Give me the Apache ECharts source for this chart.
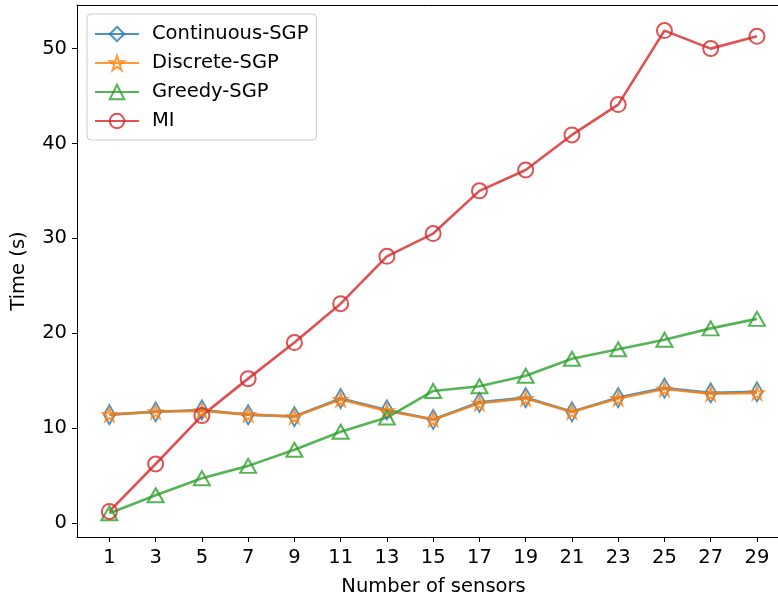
<!DOCTYPE html>
<html>
<head>
<meta charset="utf-8">
<script src="https://cdn.jsdelivr.net/npm/echarts@6/dist/echarts.min.js"></script>
<style>html,body{margin:0;padding:0;background:#fff;overflow:hidden;}#c{width:778px;height:603px;}</style>
</head>
<body>
<div id="c"></div>
<script>
const sensors = [1,3,5,7,9,11,13,15,17,19,21,23,25,27,29];
const continuousSGP = [11.4,11.7,11.9,11.4,11.2,13.1,11.9,10.9,12.7,13.2,11.7,13.2,14.2,13.7,13.8];
const discreteSGP   = [11.4,11.7,11.8,11.4,11.2,13.0,11.8,10.9,12.6,13.1,11.7,13.1,14.1,13.6,13.7];
const greedySGP     = [1.0,2.9,4.7,6.0,7.7,9.6,11.1,13.9,14.4,15.5,17.3,18.3,19.3,20.5,21.5];
const mi            = [1.2,6.2,11.3,15.2,19.0,23.1,28.1,30.5,35.0,37.2,40.9,44.1,51.9,50.0,51.3];
const yTicks = [0,10,20,30,40,50];

const FONT = 'DejaVu Sans';
const FS = 19.5;
const star = 'path://M50,0 L61.8,36.2 L100,36.2 L69.1,58.8 L80.9,95.1 L50,72.6 L19.1,95.1 L30.9,58.8 L0,36.2 L38.2,36.2 Z';
function pairs(vals){ return sensors.map((x,i)=>[x, vals[i]]); }
function ser(name, vals, color, symbol, size){
  return {
    name, type:'line', data: pairs(vals), symbol, symbolSize:size,
    showAllSymbol:true, animation:false,
    lineStyle:{color, width:2.6},
    itemStyle:{color:'rgba(255,255,255,0)', borderColor:color, borderWidth:2}
  };
}
const chart = echarts.init(document.getElementById('c'));
chart.setOption({
  backgroundColor:'#fff',
  grid:{left:77, right:0, top:5, bottom:66, show:false},
  legend:{
    orient:'vertical', left:87, top:14, itemWidth:44, itemHeight:18, itemGap:9,
    padding:[10,8,9,7], borderColor:'#cccccc', borderWidth:1, borderRadius:4, backgroundColor:'#fff',
    textStyle:{fontFamily:FONT, fontSize:FS, color:'#000', padding:[0,0,0,8]},
    data:['Continuous-SGP','Discrete-SGP','Greedy-SGP','MI']
  },
  xAxis:[{
    type:'value', min:-0.4, max:29.91,
    name:'Number of sensors', nameLocation:'middle', nameGap:40,
    nameTextStyle:{fontFamily:FONT, fontSize:FS, color:'#000', padding:[0,0,0,12]},
    axisLine:{show:true, onZero:false, lineStyle:{color:'#000', width:1}},
    axisTick:{show:true, inside:false, length:5, customValues:sensors, lineStyle:{color:'#000'}},
    axisLabel:{customValues:sensors, fontFamily:FONT, fontSize:FS, color:'#000', margin:11},
    splitLine:{show:false}
  },{
    type:'value', position:'top', min:-0.4, max:29.91,
    axisLine:{show:true, onZero:false, lineStyle:{color:'#000', width:1}},
    axisTick:{show:false}, axisLabel:{show:false}, splitLine:{show:false}
  }],
  yAxis:{
    type:'value', min:-1.5, max:54.6,
    name:'Time (s)', nameLocation:'middle', nameGap:48, nameRotate:90,
    nameTextStyle:{fontFamily:FONT, fontSize:FS, color:'#000'},
    axisLine:{show:true, onZero:false, lineStyle:{color:'#000', width:1}},
    axisTick:{show:true, length:5, customValues:yTicks, lineStyle:{color:'#000'}},
    axisLabel:{customValues:yTicks, fontFamily:FONT, fontSize:FS, color:'#000', margin:10},
    splitLine:{show:false}
  },
  series:[
    ser('Continuous-SGP', continuousSGP, 'rgba(31,119,180,0.8)', 'diamond', [11,19]),
    ser('Discrete-SGP', discreteSGP, 'rgba(255,127,14,0.8)', star, 13),
    ser('Greedy-SGP', greedySGP, 'rgba(44,160,44,0.8)', 'triangle', [16,14]),
    ser('MI', mi, 'rgba(214,39,40,0.8)', 'circle', 15)
  ]
});
</script>
</body>
</html>
